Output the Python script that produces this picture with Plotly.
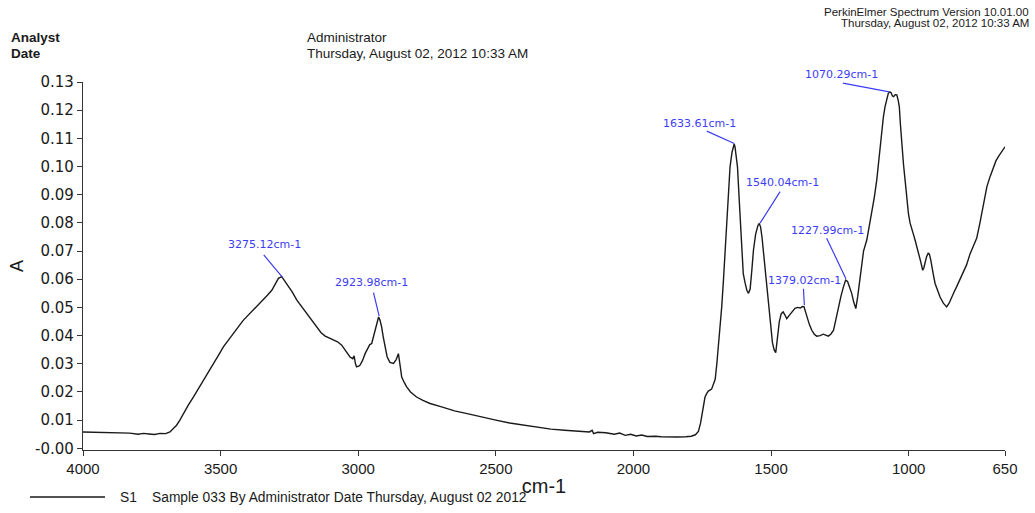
import plotly.graph_objects as go

# ---------------- data ----------------
wavenumber = [4000, 3960, 3920, 3880, 3850, 3830, 3800, 3780, 3760, 3740, 3720, 3700, 3684, 3670, 3660,
              3648, 3636, 3618, 3599, 3580, 3563, 3545, 3526, 3508, 3490, 3472, 3454, 3435, 3417, 3400,
              3381, 3363, 3345, 3330, 3314, 3300, 3290, 3278, 3270, 3260, 3240, 3223, 3205, 3187, 3170,
              3151, 3135, 3120, 3105, 3090, 3075, 3060, 3045, 3030, 3020, 3015, 3010, 3006, 2995, 2985,
              2975, 2965, 2958, 2951, 2945, 2939, 2932, 2926, 2921, 2915, 2909, 2903, 2895, 2885, 2872,
              2862, 2854, 2848, 2842, 2832, 2824, 2810, 2788, 2765, 2739, 2700, 2650, 2600, 2550, 2500,
              2450, 2400, 2350, 2300, 2250, 2200, 2160, 2150, 2145, 2130, 2100, 2070, 2050, 2030, 2010,
              1990, 1970, 1950, 1920, 1900, 1870, 1840, 1810, 1790, 1775, 1764, 1756, 1750, 1745, 1740,
              1733, 1728, 1716, 1708, 1703, 1697, 1691, 1685, 1679, 1673, 1667, 1661, 1655, 1649, 1642,
              1637, 1634, 1631, 1627, 1622, 1613, 1609, 1605, 1601, 1594, 1588, 1582, 1576, 1570, 1564,
              1556, 1548, 1543, 1538, 1533, 1528, 1520, 1513, 1507, 1501, 1495, 1489, 1483, 1477, 1470,
              1463, 1456, 1449, 1443, 1434, 1425, 1413, 1404, 1394, 1386, 1380, 1375, 1370, 1361, 1352,
              1343, 1334, 1322, 1310, 1300, 1292, 1283, 1273, 1265, 1256, 1246, 1237, 1229, 1222, 1215,
              1207, 1200, 1192, 1185, 1177, 1170, 1164, 1152, 1143, 1134, 1125, 1116, 1107, 1098, 1092,
              1086, 1080, 1074, 1068, 1064, 1059, 1055, 1049, 1043, 1038, 1034, 1030, 1025, 1019, 1013,
              1007, 1001, 995, 989, 983, 977, 971, 965, 957, 949, 945, 941, 935, 929, 925,
              920, 916, 910, 904, 895, 886, 874, 862, 853, 844, 835, 826, 814, 802, 790,
              777, 765, 753, 741, 728, 716, 704, 692, 683, 674, 665, 656, 650]

absorbance = [0.0058, 0.0057, 0.0056, 0.0055, 0.0052, 0.0054, 0.0050, 0.0053, 0.0051, 0.0049, 0.0053, 0.0052, 0.0058, 0.0070, 0.0082,
              0.0100, 0.0123, 0.0152, 0.0182, 0.0212, 0.0242, 0.0270, 0.0301, 0.0330, 0.0360, 0.0385, 0.0407, 0.0432, 0.0455, 0.0472,
              0.0490, 0.0508, 0.0526, 0.0543, 0.0561, 0.0585, 0.0603, 0.0609, 0.0598, 0.0585, 0.0555, 0.0526, 0.0502, 0.0478, 0.0455,
              0.0431, 0.0410, 0.0398, 0.0392, 0.0386, 0.0378, 0.0366, 0.0345, 0.0324, 0.0318, 0.0328, 0.0300, 0.0289, 0.0293, 0.0310,
              0.0336, 0.0355, 0.0368, 0.0372, 0.0395, 0.0419, 0.0448, 0.0466, 0.0455, 0.0431, 0.0395, 0.0360, 0.0325, 0.0305, 0.0301,
              0.0315, 0.0336, 0.0295, 0.0253, 0.0232, 0.0218, 0.0200, 0.0182, 0.0170, 0.0159, 0.0148, 0.0133, 0.0122, 0.0110, 0.0100,
              0.0090, 0.0082, 0.0074, 0.0068, 0.0064, 0.0060, 0.0058, 0.0064, 0.0052, 0.0057, 0.0055, 0.0050, 0.0054, 0.0046, 0.0050,
              0.0044, 0.0047, 0.0042, 0.0043, 0.0041, 0.0040, 0.0040, 0.0041, 0.0043, 0.0048, 0.0060, 0.0090, 0.0125, 0.0160, 0.0182,
              0.0196, 0.0203, 0.0210, 0.0228, 0.0245, 0.0300, 0.0360, 0.0419, 0.0505, 0.0597, 0.0690, 0.0780, 0.0890, 0.0999, 0.1050,
              0.1075, 0.1080, 0.1070, 0.1045, 0.0999, 0.0834, 0.0760, 0.0690, 0.0620, 0.0585, 0.0561, 0.0550, 0.0565, 0.0630, 0.0703,
              0.0760, 0.0790, 0.0798, 0.0785, 0.0750, 0.0700, 0.0620, 0.0537, 0.0475, 0.0419, 0.0375, 0.0350, 0.0339, 0.0390, 0.0450,
              0.0478, 0.0484, 0.0472, 0.0460, 0.0472, 0.0484, 0.0497, 0.0500, 0.0498, 0.0503, 0.0502, 0.0485, 0.0466, 0.0440, 0.0419,
              0.0405, 0.0398, 0.0400, 0.0405, 0.0400, 0.0398, 0.0405, 0.0419, 0.0455, 0.0502, 0.0540, 0.0573, 0.0597, 0.0592, 0.0575,
              0.0550, 0.0520, 0.0496, 0.0540, 0.0597, 0.0660, 0.0700, 0.0740, 0.0790, 0.0834, 0.0890, 0.0952, 0.1040, 0.1130, 0.1175,
              0.1212, 0.1240, 0.1260, 0.1265, 0.1262, 0.1250, 0.1248, 0.1255, 0.1254, 0.1235, 0.1212, 0.1150, 0.1070, 0.1010, 0.0952,
              0.0890, 0.0834, 0.0800, 0.0775, 0.0760, 0.0740, 0.0720, 0.0700, 0.0665, 0.0632, 0.0640, 0.0656, 0.0680, 0.0692, 0.0690,
              0.0670, 0.0644, 0.0615, 0.0585, 0.0560, 0.0537, 0.0515, 0.0502, 0.0515, 0.0537, 0.0555, 0.0573, 0.0597, 0.0620, 0.0650,
              0.0690, 0.0715, 0.0745, 0.0800, 0.0870, 0.0928, 0.0965, 0.0999, 0.1020, 0.1035, 0.1050, 0.1065, 0.1070]

peak_wavenumber = [3275.12, 2923.98, 1633.61, 1540.04, 1379.02, 1227.99, 1070.29]
peak_absorbance = [0.0607, 0.0469, 0.1082, 0.0799, 0.0508, 0.0602, 0.1265]
peak_labels = ["3275.12cm-1", "2923.98cm-1", "1633.61cm-1", "1540.04cm-1",
               "1379.02cm-1", "1227.99cm-1", "1070.29cm-1"]

x_tick_values = [4000, 3500, 3000, 2500, 2000, 1500, 1000, 650]
y_tick_values = [0.00, 0.01, 0.02, 0.03, 0.04, 0.05, 0.06, 0.07, 0.08, 0.09, 0.10, 0.11, 0.12, 0.13]
y_tick_text = ["-0.00", "0.01", "0.02", "0.03", "0.04", "0.05", "0.06", "0.07",
               "0.08", "0.09", "0.10", "0.11", "0.12", "0.13"]

# ---------------- layout helpers ----------------
W, H = 1035, 513
ML, MR, MT, MB = 83, 30, 82, 63
PW, PH = W - ML - MR, H - MT - MB


def px(xp):
    return (xp - ML) / PW


def py(yp):
    return (H - MB - yp) / PH


# leader line offsets (pixels: start of line relative to peak) and text offsets
line_offsets = [(-20, -24), (-6, -25), (-29, -13), (21, -33), (-1, -18), (-20, -42), (-48, -9)]
text_offsets = [(-18, -33), (-8, -34), (-35, -20), (22, -41), (0, -25), (-18, -48), (-48, -17)]

BLUE = "#3c3cf5"
TXT = "#1a1a1a"

fig = go.Figure()
fig.add_trace(go.Scatter(x=wavenumber, y=absorbance, mode="lines",
                         line=dict(color="#1a1a1a", width=1.4), showlegend=False,
                         hoverinfo="x+y"))

annotations = []
for wn, ab, lab, (lx, ly), (tx, ty) in zip(peak_wavenumber, peak_absorbance, peak_labels,
                                           line_offsets, text_offsets):
    annotations.append(dict(x=wn, y=ab, xref="x", yref="y", text="", showarrow=True,
                            arrowhead=0, arrowwidth=1.2, arrowcolor=BLUE, ax=lx, ay=ly,
                            standoff=0, startstandoff=0))
    annotations.append(dict(x=wn, y=ab, xref="x", yref="y", text=lab, showarrow=False,
                            xshift=tx, yshift=-ty, font=dict(family="DejaVu Sans", size=11, color=BLUE)))

hdr = dict(family="Liberation Sans", size=13.5, color=TXT)
hdr_b = dict(family="Liberation Sans", size=13.5, color=TXT)
small = dict(family="Liberation Sans", size=11.5, color=TXT)
leg = dict(family="Liberation Sans", size=13.8, color=TXT)
annotations += [
    dict(x=px(9), y=py(37), xref="paper", yref="paper", text="<b>Analyst</b>", showarrow=False,
         xanchor="left", yanchor="middle", font=hdr_b),
    dict(x=px(9), y=py(53), xref="paper", yref="paper", text="<b>Date</b>", showarrow=False,
         xanchor="left", yanchor="middle", font=hdr_b),
    dict(x=px(305), y=py(37), xref="paper", yref="paper", text="Administrator", showarrow=False,
         xanchor="left", yanchor="middle", font=hdr),
    dict(x=px(305), y=py(53), xref="paper", yref="paper", text="Thursday, August 02, 2012 10:33 AM",
         showarrow=False, xanchor="left", yanchor="middle", font=hdr),
    dict(x=px(1031), y=py(12), xref="paper", yref="paper", text="PerkinElmer Spectrum Version 10.01.00",
         showarrow=False, xanchor="right", yanchor="middle", font=small),
    dict(x=px(1031), y=py(23), xref="paper", yref="paper", text="Thursday, August 02, 2012 10:33 AM",
         showarrow=False, xanchor="right", yanchor="middle", font=small),
    dict(x=px(118), y=py(497), xref="paper", yref="paper", text="S1", showarrow=False,
         xanchor="left", yanchor="middle", font=leg),
    dict(x=px(150), y=py(497), xref="paper", yref="paper",
         text="Sample 033 By Administrator Date Thursday, August 02 2012", showarrow=False,
         xanchor="left", yanchor="middle", font=leg),
]

shapes = [dict(type="line", xref="paper", yref="paper", x0=px(30), x1=px(105), y0=py(497), y1=py(497),
               line=dict(color="#1a1a1a", width=1.5))]

fig.update_layout(
    width=W, height=H,
    margin=dict(l=ML, r=MR, t=MT, b=MB),
    paper_bgcolor="white", plot_bgcolor="white",
    annotations=annotations, shapes=shapes,
    xaxis=dict(range=[4000, 650], tickvals=x_tick_values, ticks="outside", ticklen=5,
               tickcolor="#333", showline=True, linecolor="#333", linewidth=1.2,
               showgrid=False, zeroline=False, mirror=False,
               tickfont=dict(family="Liberation Sans", size=15, color=TXT),
               title=dict(text="cm-1", font=dict(family="Liberation Sans", size=20, color=TXT),
                          standoff=2)),
    yaxis=dict(range=[-0.0006, 0.13], tickvals=y_tick_values, ticktext=y_tick_text,
               ticks="outside", ticklen=5, tickcolor="#333", showline=True, linecolor="#333",
               linewidth=1.2, showgrid=False, zeroline=False,
               tickfont=dict(family="DejaVu Sans", size=15, color=TXT),
               title=dict(text="A", font=dict(family="Liberation Sans", size=18, color=TXT),
                          standoff=6)),
)

fig.write_html("out.html")
